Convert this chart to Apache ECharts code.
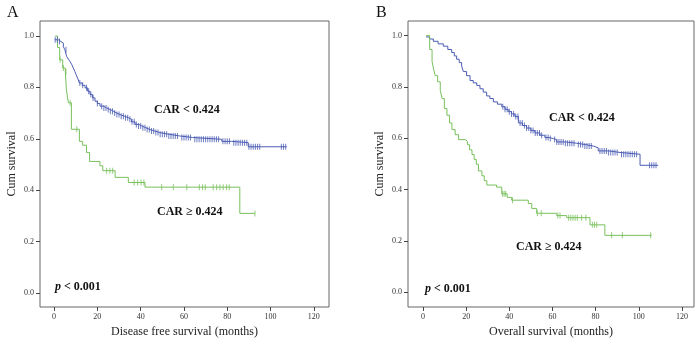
<!DOCTYPE html>
<html>
<head>
<meta charset="utf-8">
<script src="https://cdn.jsdelivr.net/npm/echarts@6/dist/echarts.min.js"></script>
<style>html,body{margin:0;padding:0;background:#fff}#c{width:700px;height:343px}</style>
</head>
<body>
<div id="c"></div>
<script>
// ---------- Data ----------
var xTicks = [0, 20, 40, 60, 80, 100, 120];
var yTicks = [0, 0.2, 0.4, 0.6, 0.8, 1.0];

// Panel A: Disease free survival
var aLowTimes = [0.3, 2.0, 3.2, 4.3, 5.0, 5.8, 6.6, 7.4, 8.2, 8.9, 9.6, 10.2, 11.0, 11.7, 13.0, 14.3, 15.5, 16.6, 17.8, 18.9, 20.0, 21.2, 22.8, 24.3, 25.8, 27.4, 29.0, 30.5, 32.4, 34.3, 35.8, 37.4, 39.0, 40.5, 42.4, 44.3, 46.6, 48.9, 52.8, 58, 64, 77.5, 82, 89.7, 107.5];
var aLowSurv  = [0.985, 0.978, 0.972, 0.958, 0.946, 0.92, 0.91, 0.90, 0.888, 0.875, 0.862, 0.849, 0.833, 0.817, 0.808, 0.798, 0.785, 0.772, 0.759, 0.746, 0.737, 0.727, 0.72, 0.714, 0.707, 0.70, 0.694, 0.688, 0.682, 0.676, 0.666, 0.656, 0.65, 0.643, 0.636, 0.63, 0.624, 0.618, 0.611, 0.605, 0.598, 0.59, 0.585, 0.569, 0.569];
var aLowCens  = [0.5, 1.5, 2.5, 5.5, 11.9, 13.2, 15, 16, 17, 18, 20, 22, 23, 24, 25, 26, 27, 28, 29, 30, 31, 32, 33, 34, 35, 36, 37, 38, 39, 40, 41, 42, 43, 44, 45, 46, 47, 48, 49, 50, 51, 52, 53, 54, 55, 56, 57, 59, 60, 61, 62, 63, 65, 66, 67, 68, 69, 70, 71, 72, 73, 74, 75, 76, 78, 79, 80, 81, 83, 84, 85, 86, 87, 88, 89, 90, 91, 92, 93, 94, 95, 105, 106, 107];
var aHighTimes = [0.5, 1.6, 2.6, 4.0, 5.2, 5.7, 6.6, 8.0, 11.7, 13.2, 15.0, 16.4, 21.2, 22.5, 28.2, 34.3, 42.0, 85.8, 92.8];
var aHighSurv  = [1.0, 0.955, 0.907, 0.875, 0.86, 0.79, 0.74, 0.637, 0.59, 0.575, 0.547, 0.512, 0.495, 0.476, 0.45, 0.43, 0.412, 0.31, 0.31];
var aHighCens  = [2.8, 4.3, 5.5, 7.4, 10.5, 24.3, 25.8, 27.1, 37, 38.6, 40.2, 41.5, 49.7, 55.1, 61.3, 67.1, 68.6, 69.8, 73.5, 75.1, 76.6, 78.1, 79.7, 80.9, 92.8];

// Panel B: Overall survival
var bLowTimes = [1.4, 3.0, 4.8, 7.0, 9.4, 11.5, 13.3, 14.5, 15.6, 16.8, 17.9, 18.7, 20.2, 21.8, 23.3, 24.9, 26.4, 27.9, 29.5, 31.0, 32.6, 34.5, 36.5, 38.0, 39.5, 41.0, 42.6, 44.2, 46.1, 48.0, 50.0, 51.9, 54.2, 56.5, 58.5, 60.4, 62.0, 66.0, 71.2, 75.0, 78.9, 81.2, 86.0, 91.3, 100.6, 109.0];
var bLowSurv  = [0.995, 0.987, 0.978, 0.968, 0.959, 0.946, 0.934, 0.921, 0.908, 0.895, 0.882, 0.86, 0.844, 0.825, 0.816, 0.806, 0.793, 0.78, 0.765, 0.755, 0.742, 0.733, 0.723, 0.713, 0.704, 0.695, 0.685, 0.66, 0.65, 0.64, 0.63, 0.621, 0.612, 0.603, 0.599, 0.595, 0.586, 0.581, 0.576, 0.57, 0.563, 0.551, 0.545, 0.538, 0.495, 0.495];
var bLowCens  = [37, 38, 39, 40, 41, 42, 43, 44, 45, 46, 47, 48, 49, 50, 51, 52, 53, 54, 55, 57, 58, 59, 61, 62, 63, 64, 65, 66, 67, 68, 69, 70, 72, 73, 74, 75, 76, 77, 78, 82, 83, 84, 85, 86, 87, 88, 89, 90, 92, 93, 94, 95, 96, 97, 98, 99, 105, 106, 107, 108];
var bHighTimes = [1.4, 3.1, 4.2, 4.9, 5.7, 6.8, 8.0, 8.9, 9.9, 11.1, 12.3, 13.4, 14.9, 16.5, 19.6, 20.6, 21.6, 22.7, 23.7, 24.7, 25.7, 27.3, 28.4, 29.6, 34.1, 36.5, 39.0, 41.1, 48.8, 50.4, 52.7, 62.0, 66.6, 77.4, 84.3, 106.0];
var bHighSurv  = [1.0, 0.946, 0.90, 0.87, 0.844, 0.82, 0.786, 0.755, 0.716, 0.69, 0.66, 0.634, 0.614, 0.595, 0.588, 0.575, 0.555, 0.537, 0.518, 0.499, 0.473, 0.454, 0.435, 0.418, 0.41, 0.384, 0.37, 0.359, 0.346, 0.327, 0.308, 0.299, 0.291, 0.263, 0.222, 0.222];
var bHighCens  = [36.8, 37.6, 38.3, 41.5, 53.0, 54.8, 62.5, 63.5, 67.5, 68.5, 69.5, 70.5, 71.5, 73.5, 75.5, 78.5, 79.5, 80.5, 87.4, 92.4, 105.5];

// ---------- Helpers ----------
var BLUE = '#4b5cb3', GREEN = '#78c05c';
var SERIF = '"Liberation Serif","Times New Roman",serif';

function pairs(t, s) { return t.map(function (v, i) { return [v, s[i]]; }); }
function survAt(t, s, x) {
  var v = s[0];
  for (var i = 0; i < t.length; i++) { if (t[i] <= x) v = s[i]; else break; }
  return v;
}
function censPts(t, s, c) { return c.map(function (x) { return [x, survAt(t, s, x)]; }); }

function curve(gi, t, s, color) {
  return { type: 'line', xAxisIndex: gi, yAxisIndex: gi, step: 'end', showSymbol: false,
    data: pairs(t, s), lineStyle: { color: color, width: 1 }, itemStyle: { color: color }, silent: true, z: 2 };
}
function cens(gi, t, s, c, color) {
  return { type: 'scatter', xAxisIndex: gi, yAxisIndex: gi, symbol: 'rect', symbolSize: [1, 6],
    data: censPts(t, s, c), itemStyle: { color: color }, silent: true, z: 3 };
}
function xAx(gi, min, max, name) {
  return { gridIndex: gi, type: 'value', min: min, max: max, position: 'bottom',
    name: name, nameLocation: 'middle', nameGap: 19,
    nameTextStyle: { fontFamily: SERIF, fontSize: 12, color: '#222' },
    axisLine: { show: false, onZero: false },
    axisTick: { show: true, length: 4, inside: false, customValues: xTicks, lineStyle: { color: '#444' } },
    axisLabel: { customValues: xTicks, fontFamily: SERIF, fontSize: 8, color: '#333', margin: 6 },
    splitLine: { show: false } };
}
function yAx(gi, min, max) {
  return { gridIndex: gi, type: 'value', min: min, max: max, position: 'left',
    name: 'Cum survival', nameLocation: 'middle', nameGap: 22,
    nameTextStyle: { fontFamily: SERIF, fontSize: 12, color: '#222' },
    axisLine: { show: false, onZero: false },
    axisTick: { show: true, length: 4, inside: false, customValues: yTicks, lineStyle: { color: '#444' } },
    axisLabel: { customValues: yTicks, fontFamily: SERIF, fontSize: 8, color: '#333', margin: 6,
      formatter: function (v) { return v.toFixed(1); } },
    splitLine: { show: false } };
}
function txt(x, y, text, size, bold) {
  return { type: 'text', x: x, y: y, style: { text: text, fill: '#111',
    font: (bold ? 'bold ' : '') + size + 'px ' + SERIF, textAlign: 'left', textVerticalAlign: 'middle' } };
}
function ptxt(x, y) {
  return { type: 'text', x: x, y: y, style: { text: '{i|p} < 0.001', fill: '#111',
    font: 'bold 12px ' + SERIF, textVerticalAlign: 'middle',
    rich: { i: { fontStyle: 'italic', fontWeight: 'bold', fontSize: 12, fontFamily: SERIF } } } };
}

var chart = echarts.init(document.getElementById('c'), null, { renderer: 'canvas' });
chart.setOption({
  animation: false,
  backgroundColor: '#fff',
  grid: [
    { left: 40, top: 21, width: 289, height: 288, show: true, borderColor: '#666', borderWidth: 1, containLabel: false },
    { left: 408, top: 21, width: 286, height: 291, show: true, borderColor: '#666', borderWidth: 1, containLabel: false }
  ],
  xAxis: [ xAx(0, -6.5, 127, 'Disease free survival (months)'), xAx(1, -6.95, 125.6, 'Overall survival (months)') ],
  yAxis: [ yAx(0, -0.054, 1.058), yAx(1, -0.057, 1.057) ],
  series: [
    curve(0, aLowTimes, aLowSurv, BLUE), curve(0, aHighTimes, aHighSurv, GREEN),
    cens(0, aLowTimes, aLowSurv, aLowCens, BLUE), cens(0, aHighTimes, aHighSurv, aHighCens, GREEN),
    curve(1, bLowTimes, bLowSurv, BLUE), curve(1, bHighTimes, bHighSurv, GREEN),
    cens(1, bLowTimes, bLowSurv, bLowCens, BLUE), cens(1, bHighTimes, bHighSurv, bHighCens, GREEN)
  ],
  graphic: [
    txt(7, 13, 'A', 16, false),
    txt(376, 13, 'B', 16, false),
    txt(154, 110, 'CAR < 0.424', 12, true),
    txt(157, 212, 'CAR \u2265 0.424', 12, true),
    ptxt(55, 287),
    txt(549, 118, 'CAR < 0.424', 12, true),
    txt(516, 247, 'CAR \u2265 0.424', 12, true),
    ptxt(425, 289)
  ]
});
</script>
</body>
</html>
